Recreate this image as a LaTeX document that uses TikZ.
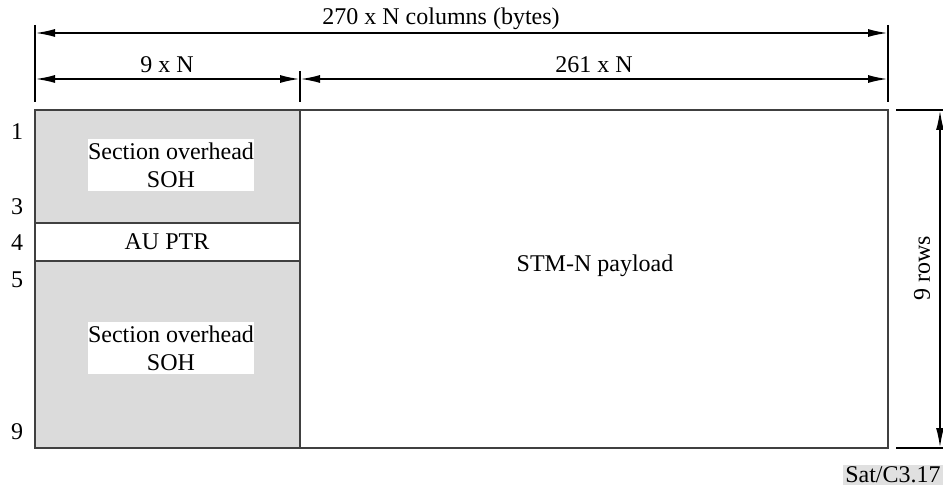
\documentclass[tikz,border=0pt]{standalone}
\usepackage{fontspec}
\setmainfont{Liberation Serif}
\usepackage{tikz}
\usetikzlibrary{arrows.meta}
\tikzset{dim/.style = {<->, > = {Latex[length = 10pt, width = 4pt]}, line width = 1pt}}
\tikzset{tick/.style = {line width = 1pt}}
\tikzset{cell/.style = {draw = black!75, line width = 0.6pt}}
\tikzset{ohcell/.style = {cell, fill = black!14}}
\tikzset{ohtext/.style = {fill = white, align = center, inner xsep = 0pt, inner ysep = 2pt}}

\begin{document}
\begin{tikzpicture}[x = 0.5pt, y = -0.5pt, font = \fontsize{12}{14}\selectfont]
			\useasboundingbox (0, 0) rectangle (943, 502);

			\coordinate (l) at (35, 33);
			\coordinate (r) at (888, 33);
			\coordinate (lm) at (35, 79);
			\coordinate (m) at (300, 79);
			\coordinate (rm) at (888, 79);
			\coordinate (up) at (940, 110);
			\coordinate (down) at (940, 448);

			\draw[ohcell] (35, 110) rectangle (300, 223);
			\draw[cell, fill = white] (35, 223) rectangle (300, 261);
			\draw[ohcell] (35, 261) rectangle (300, 448);
			\draw[cell] (300, 110) rectangle (888, 448);

			\draw[tick] (35, 25) -- (35, 102);
			\draw[tick] (300, 71) -- (300, 102);
			\draw[tick] (888, 25) -- (888, 102);
			\draw[tick] (896, 110) -- (943, 110);
			\draw[tick] (896, 448) -- (943, 448);

			\draw[dim] (l) -- (r);
			\draw[dim] (lm) -- (m);
			\draw[dim] (m) -- (rm);
			\draw[dim] (up) -- (down);

			\node (total) at (441, 19) {270 x N columns (bytes)};
			\node (ohw) at (167, 65) {9 x N};
			\node (plw) at (594, 65) {261 x N};
			\node[rotate = 90] (rows) at (922, 268) {9 rows};

			\node (r1) at (17, 132) {1};
			\node (r3) at (17, 207) {3};
			\node (r4) at (17, 243) {4};
			\node (r5) at (17, 280) {5};
			\node (r9) at (17, 432) {9};

			\node[ohtext] (soh1) at (171, 165) {Section overhead\\SOH};
			\node (ptr) at (167, 242) {AU PTR};
			\node[ohtext] (soh2) at (171, 348) {Section overhead\\SOH};
			\node (payload) at (595, 266) {STM-N payload};

			\node[fill = black!12, inner sep = 1pt, anchor = east] (fig) at (943, 475) {Sat/C3.17};
		\end{tikzpicture}
\end{document}
